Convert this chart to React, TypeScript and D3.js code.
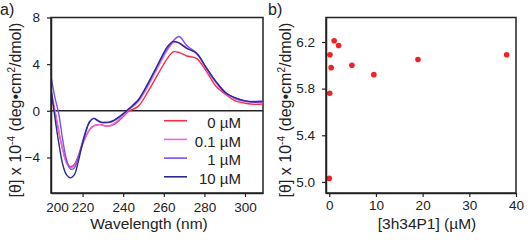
import * as d3 from 'd3';
import { useEffect, useRef } from 'react';

// panel a: CD spectra (nm)
const wavelengths = [
  204.4, 206.3, 208.3, 210.2, 212.1, 214.0, 215.9, 217.8, 219.7, 221.6, 223.5, 225.5, 227.4, 229.3, 231.2, 233.1,
  235.0, 236.9, 238.8, 240.8, 242.7, 247.5, 252.2, 257.0, 261.8, 264.7, 267.5, 271.3, 276.1, 280.9, 285.7, 290.5,
  295.2, 300.0, 304.8, 309.6,
];
const theta0 = [
  1.5, 0.0, -1.8, -3.3, -4.4, -4.8, -4.6, -3.9, -3.0, -2.2, -1.6, -1.3, -1.2, -1.2, -1.3, -1.3, -1.2, -1.0, -0.7,
  -0.35, -0.05, 0.4, 1.65, 3.1, 4.5, 5.05, 5.0, 4.7, 4.5, 3.4, 2.1, 1.4, 0.85, 0.65, 0.55, 0.6,
];
const theta01 = [
  1.8, 0.1, -1.8, -3.4, -4.5, -4.9, -4.7, -4.0, -3.0, -2.2, -1.6, -1.3, -1.2, -1.2, -1.3, -1.3, -1.15, -0.9, -0.6,
  -0.3, 0.05, 0.8, 2.1, 3.7, 5.2, 5.85, 5.85, 5.4, 4.9, 3.6, 2.4, 1.5, 1.0, 0.8, 0.7, 0.75,
];
const theta1 = [
  3.0, 1.2, -0.3, -2.5, -4.2, -5.0, -4.9, -4.0, -2.8, -1.7, -0.9, -0.65, -0.8, -1.0, -1.0, -1.0, -0.9, -0.7, -0.45,
  -0.15, 0.15, 0.95, 2.3, 3.9, 5.35, 6.0, 6.37, 5.6, 4.95, 3.7, 2.5, 1.55, 1.1, 0.85, 0.8, 0.85,
];
const theta10 = [
  2.0, -0.5, -2.8, -4.6, -5.5, -5.75, -5.5, -4.4, -3.0, -1.8, -0.95, -0.65, -0.85, -1.0, -1.0, -0.97, -0.85, -0.65,
  -0.4, -0.15, 0.15, 0.95, 2.35, 3.95, 5.5, 5.95, 5.8, 5.35, 4.95, 3.7, 2.5, 1.55, 1.1, 0.85, 0.75, 0.8,
];
const seriesLabels = ['0 \u00b5M', '0.1 \u00b5M', '1 \u00b5M', '10 \u00b5M'];
const seriesColors = ['#f0304a', '#e868e0', '#7a50f0', '#2a2a90'];
const xTicksA = [220, 240, 260, 280, 300];
const yTicksA = [-4, 0, 4, 8];

// panel b: ellipticity vs concentration
const conc = [0, 0.1, 0.15, 0.4, 1.05, 2.0, 4.85, 9.55, 19, 38];
const thetaMax = [5.03, 5.76, 6.09, 5.98, 6.21, 6.17, 6.0, 5.92, 6.05, 6.09];
const xTicksB = [0, 10, 20, 30, 40];
const yTicksB = [5.0, 5.4, 5.8, 6.2];

const W = 528;
const H = 240;
const FONT = "'Liberation Sans', Arial, sans-serif";
const INK = '#222';

const App = (): React.ReactElement => {
  const ref: any = useRef();

  useEffect(() => {
    const svg = d3.select(ref.current);
    svg.selectAll('*').remove();

    // ---- panel a ----
    const a = { left: 51, right: 263, top: 17.5, bottom: 193 };
    const xa = d3.scaleLinear().domain([204.43, 308.87]).range([a.left, a.right]);
    const ya = d3.scaleLinear().domain([-7.05, 8]).range([a.bottom, a.top]);

    const ga = svg.append('g');
    ga.append('rect')
      .attr('x', a.left)
      .attr('y', a.top)
      .attr('width', a.right - a.left)
      .attr('height', a.bottom - a.top)
      .attr('fill', 'none')
      .attr('stroke', INK)
      .attr('stroke-width', 1.5);
    ga.append('line')
      .attr('x1', a.left)
      .attr('x2', a.right)
      .attr('y1', ya(0))
      .attr('y2', ya(0))
      .attr('stroke', INK)
      .attr('stroke-width', 1.5);

    const line = d3
      .line<number>()
      .x((d, i) => xa(wavelengths[i]))
      .y((d) => ya(d))
      .curve(d3.curveCatmullRom.alpha(0.5));

    const clip = svg.append('clipPath').attr('id', 'clipa');
    clip.append('rect').attr('x', a.left).attr('y', a.top).attr('width', a.right - a.left).attr('height', a.bottom - a.top);

    const allSeries = [theta0, theta01, theta1, theta10];
    ga.append('g')
      .attr('clip-path', 'url(#clipa)')
      .selectAll('path')
      .data(allSeries)
      .enter()
      .append('path')
      .attr('d', (d) => line(d) ?? '')
      .attr('fill', 'none')
      .attr('stroke', (d, i) => seriesColors[i])
      .attr('stroke-width', 1.4);

    const axA = ga
      .append('g')
      .attr('transform', 'translate(0,' + a.bottom + ')')
      .call(d3.axisBottom(xa).tickValues(xTicksA).tickSize(4).tickSizeOuter(0));
    // first label sits just inside the left edge, as in the source figure
    axA.append('text')
      .attr('x', a.left + 6.5)
      .attr('y', 7)
      .attr('text-anchor', 'middle')
      .text('200');
    const ayA = ga
      .append('g')
      .attr('transform', 'translate(' + a.left + ',0)')
      .call(d3.axisLeft(ya).tickValues(yTicksA).tickSize(4).tickPadding(7).tickSizeOuter(0));

    // legend
    const leg = ga.append('g');
    seriesLabels.forEach((lab, i) => {
      const yy = 120.7 + i * 18.7;
      leg.append('line')
        .attr('x1', 164)
        .attr('x2', 187)
        .attr('y1', yy)
        .attr('y2', yy)
        .attr('stroke', seriesColors[i])
        .attr('stroke-width', 1.6);
      leg.append('text')
        .attr('x', 241)
        .attr('y', yy + 7.3)
        .attr('text-anchor', 'end')
        .attr('font-size', 15)
        .attr('font-family', FONT)
        .attr('fill', INK)
        .text(lab);
    });

    // ---- panel b ----
    const b = { left: 326, right: 516, top: 17.5, bottom: 193 };
    const xb = d3.scaleLinear().domain([-0.7, 40]).range([b.left, b.right]);
    const yb = d3.scaleLinear().domain([4.905, 6.41]).range([b.bottom, b.top]);

    const gb = svg.append('g');
    gb.append('rect')
      .attr('x', b.left)
      .attr('y', b.top)
      .attr('width', b.right - b.left)
      .attr('height', b.bottom - b.top)
      .attr('fill', 'none')
      .attr('stroke', INK)
      .attr('stroke-width', 1.5);

    gb.append('g')
      .selectAll('circle')
      .data(conc)
      .enter()
      .append('circle')
      .attr('cx', (d) => xb(d))
      .attr('cy', (d, i) => yb(thetaMax[i]))
      .attr('r', 2.8)
      .attr('fill', '#f02028');

    const axB = gb
      .append('g')
      .attr('transform', 'translate(0,' + b.bottom + ')')
      .call(d3.axisBottom(xb).tickValues(xTicksB).tickSize(4).tickSizeOuter(0));
    const ayB = gb
      .append('g')
      .attr('transform', 'translate(' + b.left + ',0)')
      .call(
        d3
          .axisLeft(yb)
          .tickValues(yTicksB)
          .tickFormat(d3.format('.1f'))
          .tickSize(4)
          .tickPadding(7)
          .tickSizeOuter(0),
      );

    [axA, ayA, axB, ayB].forEach((g) => {
      g.select('.domain').attr('stroke', INK).attr('stroke-width', 1.5);
      g.selectAll('.tick line').attr('stroke', INK).attr('stroke-width', 1.2);
      g.selectAll('text').attr('font-size', 13.5).attr('font-family', FONT).attr('fill', INK);
    });
    axA.selectAll('text').attr('dy', '0.9em');
    axB.selectAll('.tick text').attr('dy', '0.75em');

    // titles
    const yTitle = (x: number) => {
      const t = svg
        .append('text')
        .attr('transform', 'translate(' + x + ',110) rotate(-90)')
        .attr('text-anchor', 'middle')
        .attr('font-size', 16)
        .attr('font-family', FONT)
        .attr('fill', INK);
      t.append('tspan').text('[\u03b8] x 10');
      t.append('tspan').attr('font-size', 10).attr('dy', -6).text('-4');
      t.append('tspan').attr('dy', 6).text(' (deg\u2022cm');
      t.append('tspan').attr('font-size', 10).attr('dy', -6).text('2');
      t.append('tspan').attr('dy', 6).text('/dmol)');
    };
    yTitle(20.5);
    yTitle(291);

    svg.append('text')
      .attr('x', 149)
      .attr('y', 228.5)
      .attr('text-anchor', 'middle')
      .attr('font-size', 15.5)
      .attr('font-family', FONT)
      .attr('fill', INK)
      .text('Wavelength (nm)');
    svg.append('text')
      .attr('x', 427)
      .attr('y', 229)
      .attr('text-anchor', 'middle')
      .attr('font-size', 15.5)
      .attr('font-family', FONT)
      .attr('fill', INK)
      .text('[3h34P1] (\u00b5M)');

    svg.append('text').attr('x', 0).attr('y', 15).attr('font-size', 16).attr('font-family', FONT).attr('fill', INK).text('a)');
    svg.append('text').attr('x', 268).attr('y', 15).attr('font-size', 16).attr('font-family', FONT).attr('fill', INK).text('b)');
  }, []);

  return (
    <svg
      ref={ref}
      width={W}
      height={H}
      style={{ position: 'absolute', left: 0, top: 0, background: '#fff' }}
    />
  );
};

export default App;
